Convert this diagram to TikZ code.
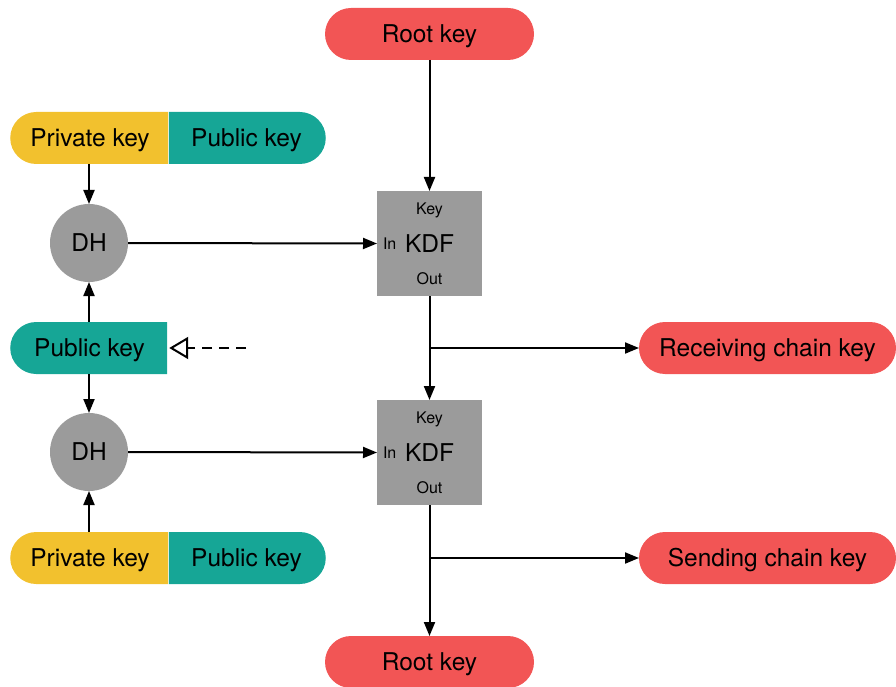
\documentclass[tikz,border=0pt]{standalone}
\usepackage{fontspec}
\setmainfont{TeX Gyre Heros}
\usetikzlibrary{arrows.meta,shapes.misc,shapes.geometric}
\definecolor{keyred}{RGB}{242,85,85}
\definecolor{keyyellow}{RGB}{242,193,46}
\definecolor{keyteal}{RGB}{22,166,150}
\definecolor{opgray}{RGB}{155,155,155}
\begin{document}
\begin{tikzpicture}[x=1pt,y=-1pt,
  every node/.style={inner sep=0pt,outer sep=0pt,font=\fontsize{24.5}{28}\selectfont,text height=17.5pt,text depth=0pt},
  pill/.style={rounded rectangle,minimum height=52pt,fill=#1},
  lefthalf/.style={rounded rectangle,rounded rectangle east arc=none,minimum width=158pt,minimum height=52pt,fill=#1},
  righthalf/.style={rounded rectangle,rounded rectangle west arc=none,minimum width=157pt,minimum height=52pt,fill=#1},
  dhnode/.style={circle,fill=opgray,minimum size=78pt},
  kdfbox/.style={rectangle,fill=opgray,minimum size=105pt},
  small/.style={font=\fontsize{16}{18}\selectfont,text height=11.5pt,text depth=0pt},
  conn/.style={line width=2pt,-{Triangle[length=14pt,width=11pt]}}
]
\useasboundingbox (0,0) rectangle (896,687);

\node[pill=keyred,minimum width=209pt] (root1) at (429.5,34) {Root key};

\node[righthalf=keyteal] (pub1) at (246.5,138) {Public key};
\node[lefthalf=keyyellow] (priv1) at (90,138) {Private key};

\node[dhnode] (dh1) at (89,243) {DH};
\node[kdfbox] (kdf1) at (429.5,243.5) {};
\node[small] (key1) at (429.5,208.5) {Key};
\node (kdfl1) at (429.5,243.5) {KDF};
\node[small,anchor=west] (in1) at (383,243.5) {In};
\node[small] (out1) at (429.5,279) {Out};

\node[lefthalf=keyteal,minimum width=157pt] (pubm) at (89.5,348) {Public key};
\coordinate (dashend) at (246,348);

\node[pill=keyred,minimum width=257pt] (recv) at (767.5,348) {Receiving chain key};

\node[dhnode] (dh2) at (89,452) {DH};
\node[kdfbox] (kdf2) at (429.5,452.5) {};
\node[small] (key2) at (429.5,418) {Key};
\node (kdfl2) at (429.5,452.5) {KDF};
\node[small,anchor=west] (in2) at (383,452.5) {In};
\node[small] (out2) at (429.5,488) {Out};

\node[righthalf=keyteal] (pub2) at (246.5,558) {Public key};
\node[lefthalf=keyyellow] (priv2) at (90,558) {Private key};

\node[pill=keyred,minimum width=257pt] (send) at (767.5,558) {Sending chain key};

\node[pill=keyred,minimum width=209pt] (root2) at (429.5,662) {Root key};

% connectors
\draw[conn] (root1.south) -- (kdf1.north);
\draw[conn] (priv1.south -| dh1) -- (dh1.north);
\draw[conn] (dh1.east) -- (kdf1.west);
\draw[conn] (pubm.north -| dh1) -- (dh1.south);
\draw[conn] (pubm.south -| dh2) -- (dh2.north);
\draw[conn] (priv2.north -| dh2) -- (dh2.south);
\draw[conn] (dh2.east) -- (kdf2.west);
\draw[conn] (kdf1.south) -- (kdf2.north);
\draw[conn] (kdf1.south |- recv.west) -- (recv.west);
\draw[conn] (kdf2.south) -- (root2.north);
\draw[conn] (kdf2.south |- send.west) -- (send.west);
\draw[line width=2pt,dash pattern=on 10pt off 7pt,-{Triangle[open,length=19pt,width=22pt,line width=2pt]}] (dashend) -- ([xshift=2pt]pubm.east);
\end{tikzpicture}
\end{document}
